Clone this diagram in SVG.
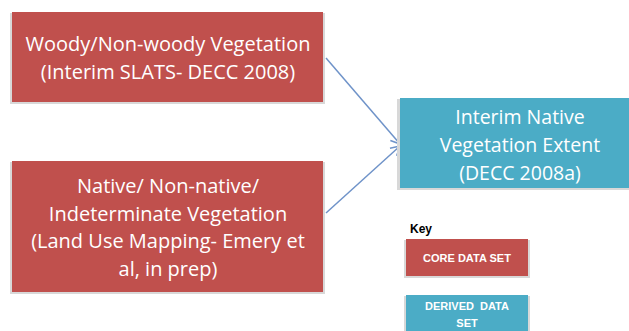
<svg xmlns="http://www.w3.org/2000/svg" width="629" height="331" viewBox="0 0 629 331">
<defs>
<style>
.red{fill:#C0504D}
.blue{fill:#4BACC6}
.sh{fill:#d8d8d8}
.t{font-family:"Open Sans","Liberation Sans",sans-serif;fill:#fff;text-anchor:middle;font-size:20px}
.tb{font-size:19.5px}
.k{font-family:"Liberation Sans",sans-serif;fill:#fff;text-anchor:middle;font-size:11px;font-weight:bold}
.c{stroke:#6F93C9;stroke-width:1.5;fill:none}
</style>
<marker id="ah" markerWidth="12" markerHeight="12" refX="10" refY="6" orient="auto" markerUnits="userSpaceOnUse">
<path d="M1,1 L10,6 L1,11" fill="none" stroke="#6F93C9" stroke-width="1.5"/>
</marker>
</defs>
<rect width="629" height="331" fill="#fff"/>
<g id="connectors">
<line class="c" x1="326" y1="58" x2="400" y2="144" marker-end="url(#ah)"/>
<line class="c" x1="326" y1="213" x2="400" y2="146" marker-end="url(#ah)"/>
</g>
<g id="woody">
<rect class="sh" x="10" y="13" width="315" height="91"/>
<rect class="red" x="12" y="12" width="311" height="90"/>
<text class="t" x="168" y="51">Woody/Non-woody Vegetation</text>
<text class="t" x="168" y="79">(Interim SLATS- DECC 2008)</text>
</g>
<g id="native">
<rect class="sh" x="10" y="162" width="315" height="132"/>
<rect class="red" x="12" y="161" width="311" height="131"/>
<text class="t" x="168" y="193">Native/ Non-native/</text>
<text class="t" x="168" y="221">Indeterminate Vegetation</text>
<text class="t" x="168" y="248">(Land Use Mapping- Emery et</text>
<text class="t" x="168" y="276">al, in prep)</text>
</g>
<g id="extent">
<rect class="sh" x="397" y="99" width="232" height="91"/>
<rect class="blue" x="400" y="98" width="229" height="90"/>
<text class="t tb" x="520" y="124">Interim Native</text>
<text class="t tb" x="520" y="152">Vegetation Extent</text>
<text class="t tb" x="520" y="180">(DECC 2008a)</text>
</g>
<g id="key">
<text x="410" y="233" font-family="Liberation Sans,sans-serif" font-size="12" font-weight="bold" fill="#000">Key</text>
<rect class="sh" x="404" y="240" width="126" height="38"/>
<rect class="red" x="406" y="239" width="122" height="37"/>
<text class="k" x="467" y="262">CORE DATA SET</text>
<rect class="sh" x="404" y="296" width="126" height="38"/>
<rect class="blue" x="406" y="295" width="122" height="37"/>
<text class="k" x="467" y="310" xml:space="preserve">DERIVED  DATA</text>
<text class="k" x="467" y="327">SET</text>
</g>
</svg>
